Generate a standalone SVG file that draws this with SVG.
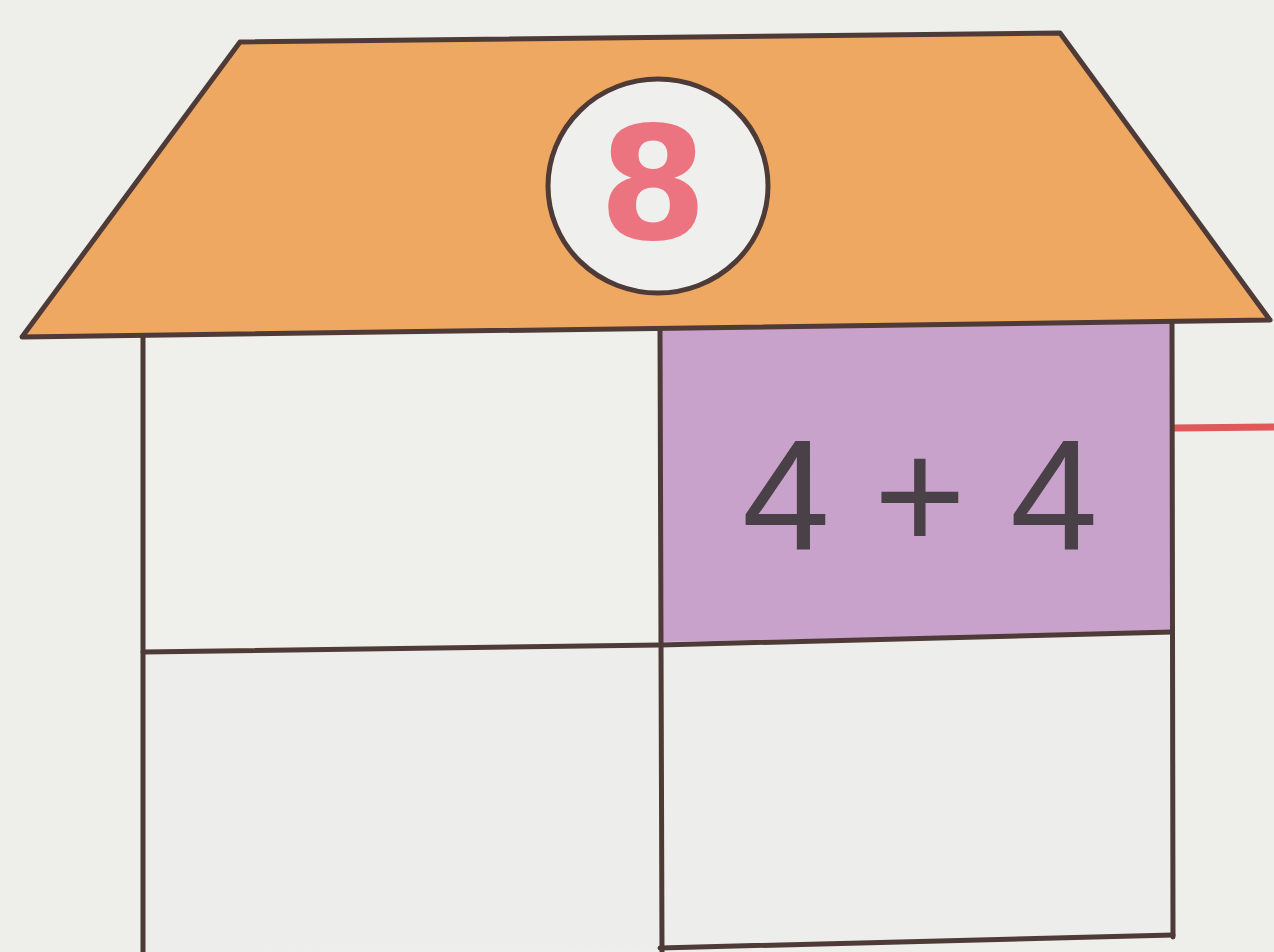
<svg xmlns="http://www.w3.org/2000/svg" width="1274" height="952" viewBox="0 0 1274 952">
<style>
.ln{stroke:#4e3a36;stroke-width:5;stroke-linejoin:round;stroke-linecap:round}
.open{fill:none}
</style>
<rect width="1274" height="952" fill="#eeeeea"/>
<g id="walls">
<polygon points="143,337 660,332 660,648 143,652" fill="#efefec"/>
<polygon points="660,648 1172,632 1172,936 660,950 143,952 143,652" fill="#ededeb"/>
<polygon points="660,330 1172,322 1172,632 660,642" fill="#c9a2cb"/>
</g>
<g id="connectors">
<line x1="1174" y1="428" x2="1274" y2="427" stroke="#e0585a" stroke-width="7"/>
</g>
<g id="grid">
<polyline class="ln open" points="143,337 143,952"/>
<polyline class="ln open" points="660,330 662,952"/>
<polyline class="ln open" points="1172,322 1173,937"/>
<polyline class="ln open" points="143,652 660,645 1172,632"/>
<polyline class="ln open" points="660,948 1173,935"/>
</g>
<g id="roof">
<polygon class="ln" points="240,42 1060,33 1270,320 22,337" style="fill:#efa861"/>
</g>
<g id="circle">
<ellipse cx="658" cy="186" rx="110" ry="107" fill="#efefee" stroke="#4e3a36" stroke-width="5"/>
<text x="653" y="239" font-family="DejaVu Sans, sans-serif" font-weight="bold" font-size="156" fill="#ec7480" text-anchor="middle">8</text>
</g>
<g id="cell-4plus4">
<text x="920" y="550" font-family="Liberation Sans, Arial, sans-serif" font-size="158" fill="#4a4047" text-anchor="middle">4 + 4</text>
</g>
</svg>
